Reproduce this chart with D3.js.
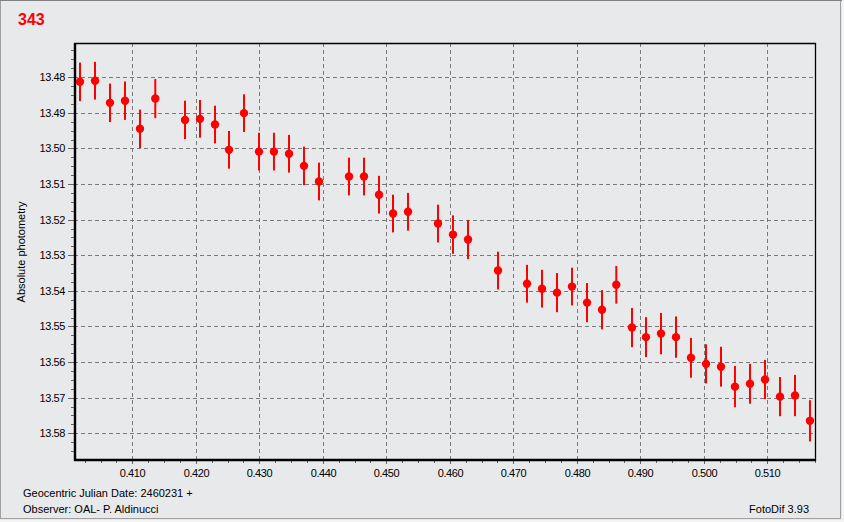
<!DOCTYPE html>
<html>
<head>
<meta charset="utf-8">
<script src="https://cdn.jsdelivr.net/npm/d3@7"></script>
<style>
  html, body { margin: 0; padding: 0; background: #e8e9eb; }
  svg { display: block; }
  text { font-family: "Liberation Sans", Arial, sans-serif; }
</style>
</head>
<body>
<svg id="chart" width="844" height="522"></svg>
<script>
// ---- Data ----
const jd = [0.40176, 0.40413, 0.40649, 0.40885, 0.41121, 0.41362, 0.41830, 0.42066, 0.42302, 0.42523,
            0.42759, 0.42995, 0.43231, 0.43468, 0.43704, 0.43940, 0.44413, 0.44649, 0.44885, 0.45106,
            0.45342, 0.45814, 0.46050, 0.46287, 0.46759, 0.47216, 0.47452, 0.47688, 0.47924, 0.48161,
            0.48397, 0.48622, 0.48869, 0.49090, 0.49326, 0.49562, 0.49798, 0.50035, 0.50271, 0.50491,
            0.50728, 0.50964, 0.51200, 0.51436, 0.51672];
const mag = [13.4813, 13.4810, 13.4872, 13.4866, 13.4945, 13.4860, 13.4920, 13.4917, 13.4933, 13.5004,
             13.4901, 13.5009, 13.5009, 13.5015, 13.5049, 13.5093, 13.5079, 13.5079, 13.5130, 13.5183,
             13.5178, 13.5211, 13.5242, 13.5256, 13.5343, 13.5380, 13.5394, 13.5405, 13.5388, 13.5433,
             13.5453, 13.5383, 13.5503, 13.5530, 13.5520, 13.5530, 13.5588, 13.5605, 13.5613, 13.5669,
             13.5661, 13.5649, 13.5697, 13.5694, 13.5765];
const err = [0.0054, 0.0053, 0.0054, 0.0054, 0.0054, 0.0055, 0.0054, 0.0053, 0.0053, 0.0053,
             0.0053, 0.0053, 0.0053, 0.0053, 0.0054, 0.0053, 0.0053, 0.0053, 0.0053, 0.0053,
             0.0053, 0.0053, 0.0054, 0.0055, 0.0053, 0.0053, 0.0053, 0.0055, 0.0053, 0.0055,
             0.0055, 0.0053, 0.0055, 0.0056, 0.0058, 0.0058, 0.0056, 0.0055, 0.0056, 0.0058,
             0.0056, 0.0055, 0.0055, 0.0058, 0.0058];
const xTicks = [0.410, 0.420, 0.430, 0.440, 0.450, 0.460, 0.470, 0.480, 0.490, 0.500, 0.510];
const yTicks = [13.48, 13.49, 13.50, 13.51, 13.52, 13.53, 13.54, 13.55, 13.56, 13.57, 13.58];
const xDomain = [0.400819, 0.517513];
const yDomain = [13.47040, 13.58750];
const titleText = "343";
const yTitle = "Absolute photometry";
const footLeft1 = "Geocentric Julian Date: 2460231 +";
const footLeft2 = "Observer: OAL- P. Aldinucci";
const footRight = "FotoDif 3.93";

// ---- Layout ----
const W = 844, H = 522;
const L = 74, R = 815, T = 43, B = 460;
const svg = d3.select("#chart");

// window frame
svg.append("rect").attr("x", 0.5).attr("y", 0.5).attr("width", 840).attr("height", 518)
  .attr("fill", "#e8e9eb").attr("stroke", "#a0a0a0");
svg.append("line").attr("x1", 0).attr("x2", 842).attr("y1", 0.5).attr("y2", 0.5)
  .attr("stroke", "#808080");
svg.append("rect").attr("x", 842).attr("y", 0).attr("width", 2).attr("height", H).attr("fill", "#f4f4f4");
svg.append("rect").attr("x", 0).attr("y", 520).attr("width", W).attr("height", 2).attr("fill", "#f4f4f4");

const x = d3.scaleLinear().domain(xDomain).range([L, R]);
const y = d3.scaleLinear().domain(yDomain).range([T + (77.2 - 43) - (13.48 - yDomain[0]) * 3561, B]);
// (range top equals T; written via scale definition)
y.range([T, B]);

const snap = v => Math.round(v) + 0.5;

// minor ticks values
const xMinor = d3.range(0, 48).map(i => 0.4025 + i * 0.0025).filter(v => v > xDomain[0] && v < xDomain[1]);
const yMinor = d3.range(0, 48).map(i => 13.4725 + i * 0.0025).filter(v => v > yDomain[0] && v < yDomain[1]);

// Gridlines (dashed)
const grid = svg.append("g");
grid.selectAll("line.gx").data(xTicks).join("line")
  .attr("x1", d => snap(x(d))).attr("x2", d => snap(x(d)))
  .attr("y1", T).attr("y2", B)
  .attr("stroke", "#7a7a7a").attr("stroke-width", 1).attr("stroke-dasharray", "4,3");
grid.selectAll("line.gy").data(yTicks).join("line")
  .attr("x1", L).attr("x2", R)
  .attr("y1", d => snap(y(d))).attr("y2", d => snap(y(d)))
  .attr("stroke", "#7a7a7a").attr("stroke-width", 1).attr("stroke-dasharray", "4,3");

// Axes via d3.axis
const fmt2 = d3.format(".2f"), fmt3 = d3.format(".3f");
const yAxis = svg.append("g").attr("transform", `translate(${L},0)`)
  .call(d3.axisLeft(y).tickValues(yTicks).tickFormat(fmt2).tickSize(6).tickPadding(3));
const yAxisMinor = svg.append("g").attr("transform", `translate(${L},0)`)
  .call(d3.axisLeft(y).tickValues(yMinor).tickFormat("").tickSize(3));
const xAxis = svg.append("g").attr("transform", `translate(0,${B})`)
  .call(d3.axisBottom(x).tickValues(xTicks).tickFormat(fmt3).tickSize(4).tickPadding(5));
const xAxisMinor = svg.append("g").attr("transform", `translate(0,${B})`)
  .call(d3.axisBottom(x).tickValues(xMinor).tickFormat("").tickSize(3));

[yAxis, yAxisMinor, xAxis, xAxisMinor].forEach(g => {
  g.select(".domain").remove();
  g.selectAll(".tick line").attr("stroke", "#666");
  g.selectAll("text").attr("fill", "#000").attr("font-size", "11px")
    .attr("font-family", "'Liberation Sans', Arial, sans-serif").attr("letter-spacing", "-0.4px");
});
yAxis.selectAll(".tick").attr("transform", d => `translate(0,${snap(y(d))})`);
yAxisMinor.selectAll(".tick").attr("transform", d => `translate(0,${snap(y(d))})`);
xAxis.selectAll(".tick").attr("transform", d => `translate(${snap(x(d))},0)`);
xAxisMinor.selectAll(".tick").attr("transform", d => `translate(${snap(x(d))},0)`);

// Plot frame
svg.append("line").attr("x1", L).attr("x2", R + 1).attr("y1", T + 0.5).attr("y2", T + 0.5)
  .attr("stroke", "#000").attr("stroke-width", 1.3);
svg.append("line").attr("x1", R + 0.5).attr("x2", R + 0.5).attr("y1", T).attr("y2", B + 1)
  .attr("stroke", "#000").attr("stroke-width", 1.3);
svg.append("line").attr("x1", L + 1).attr("x2", L + 1).attr("y1", T).attr("y2", B + 1)
  .attr("stroke", "#000").attr("stroke-width", 2.4);
svg.append("line").attr("x1", L).attr("x2", R + 1).attr("y1", B).attr("y2", B)
  .attr("stroke", "#000").attr("stroke-width", 2.4);

// Data: error bars + points
const pts = jd.map((t, i) => ({ t, m: mag[i], e: err[i] }));
const clipId = "plotclip";
svg.append("clipPath").attr("id", clipId).append("rect")
  .attr("x", L + 2).attr("y", T + 1).attr("width", R - L - 2).attr("height", B - T - 2);
const data = svg.append("g").attr("clip-path", `url(#${clipId})`);
data.selectAll("line.eb").data(pts).join("line")
  .attr("x1", d => x(d.t)).attr("x2", d => x(d.t))
  .attr("y1", d => y(d.m - d.e)).attr("y2", d => y(d.m + d.e))
  .attr("stroke", "#ff0000").attr("stroke-width", 2);
data.selectAll("circle").data(pts).join("circle")
  .attr("cx", d => x(d.t)).attr("cy", d => y(d.m)).attr("r", 4.2)
  .attr("fill", "#ff0000");

// Titles & texts
svg.append("text").attr("x", 18).attr("y", 25).text(titleText)
  .attr("fill", "#ff0000").attr("font-weight", "bold").attr("font-size", "16px");
svg.append("text").attr("transform", "translate(25,252) rotate(-90)")
  .attr("text-anchor", "middle").attr("font-size", "11px").attr("fill", "#000").text(yTitle);
svg.append("text").attr("x", 23).attr("y", 497).attr("font-size", "11px").attr("fill", "#000").text(footLeft1);
svg.append("text").attr("x", 23).attr("y", 513).attr("font-size", "11px").attr("fill", "#000").text(footLeft2);
svg.append("text").attr("x", 809).attr("y", 513).attr("text-anchor", "end")
  .attr("font-size", "11px").attr("fill", "#000").text(footRight);
</script>
</body>
</html>
